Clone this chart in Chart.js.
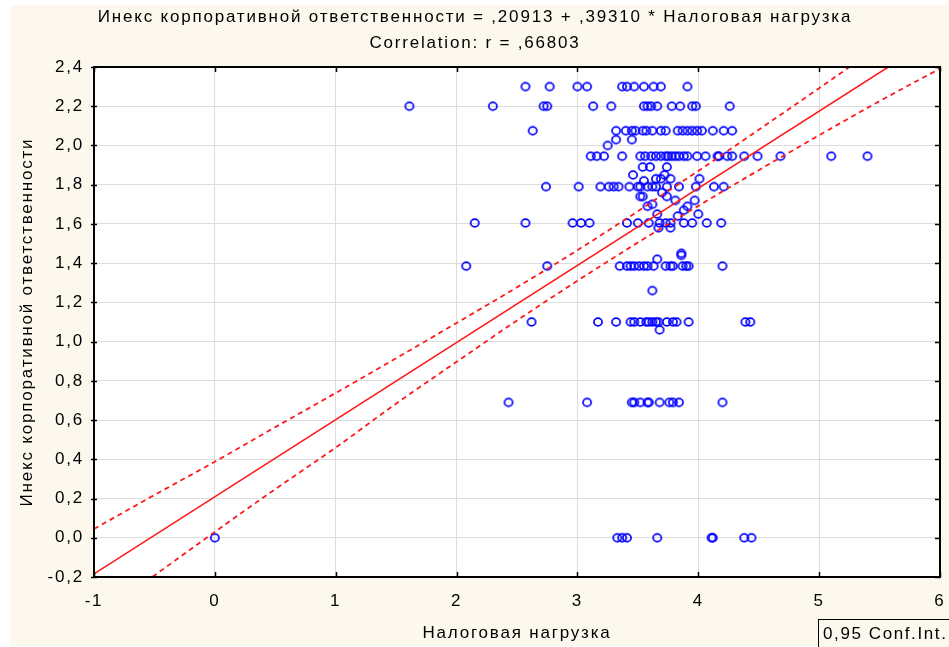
<!DOCTYPE html>
<html><head><meta charset="utf-8">
<script src="https://cdn.jsdelivr.net/npm/chart.js@4.4.0/dist/chart.umd.min.js"></script>
<style>html,body{margin:0;padding:0;background:#fff;}canvas{display:block;}</style>
</head><body>
<canvas id="c" width="949" height="647"></canvas>
<script>
const titleLines = ['Инекс корпоративной ответственности = ,20913 + ,39310 * Налоговая нагрузка', 'Correlation: r = ,66803'];
const xAxisTitle = 'Налоговая нагрузка';
const yAxisTitle = 'Инекс корпоративной ответственности';
const legendLabel = '0,95 Conf.Int.';
const xTickLabels = ['-1', '0', '1', '2', '3', '4', '5', '6'];
const yTickLabels = ['-0,2', '0,0', '0,2', '0,4', '0,6', '0,8', '1,0', '1,2', '1,4', '1,6', '1,8', '2,0', '2,2', '2,4'];

// Observed points: each CSR index level with the tax-load values observed at it
const csrLevels = [2.30, 2.20, 2.075, 2.03, 2.00, 1.945, 1.89, 1.85, 1.83, 1.82, 1.79, 1.76, 1.74, 1.72, 1.70, 1.69, 1.67, 1.65, 1.64, 1.605, 1.58, 1.45, 1.44, 1.42, 1.385, 1.26, 1.10, 1.06, 0.69, 0.00];
const taxLoadByLevel = [
  [2.57, 2.77, 3.00, 3.08, 3.37, 3.41, 3.47, 3.55, 3.63, 3.69, 3.91],
  [1.61, 2.30, 2.72, 2.75, 3.13, 3.28, 3.55, 3.58, 3.61, 3.66, 3.78, 3.85, 3.95, 3.98, 4.26],
  [2.63, 3.32, 3.40, 3.45, 3.48, 3.54, 3.57, 3.62, 3.69, 3.73, 3.83, 3.87, 3.91, 3.95, 3.99, 4.03, 4.12, 4.21, 4.28],
  [3.32, 3.45],
  [3.25],
  [3.11, 3.16, 3.22, 3.37, 3.52, 3.56, 3.61, 3.65, 3.69, 3.73, 3.75, 3.78, 3.81, 3.84, 3.88, 3.91, 3.99, 4.06, 4.16, 4.17, 4.24, 4.28, 4.38, 4.49, 4.68, 5.10, 5.40],
  [3.54, 3.60, 3.74],
  [3.46, 3.72],
  [3.65, 3.69, 3.77, 4.01],
  [3.55],
  [2.74, 3.01, 3.19, 3.26, 3.30, 3.34, 3.43, 3.50, 3.52, 3.58, 3.62, 3.65, 3.74, 3.84, 3.98, 4.13, 4.21],
  [3.70],
  [3.52, 3.54, 3.74],
  [3.81, 3.97],
  [3.62],
  [3.58, 3.91],
  [3.88],
  [3.66, 4.00],
  [3.83],
  [2.15, 2.57, 2.96, 3.03, 3.10, 3.41, 3.50, 3.59, 3.68, 3.73, 3.77, 3.88, 3.95, 4.07, 4.19],
  [3.67, 3.77],
  [3.86],
  [3.86],
  [3.66],
  [2.08, 2.75, 3.35, 3.41, 3.44, 3.47, 3.51, 3.55, 3.58, 3.63, 3.73, 3.77, 3.79, 3.87, 3.90, 3.92, 4.20],
  [3.62],
  [2.62, 3.17, 3.32, 3.44, 3.47, 3.52, 3.57, 3.59, 3.62, 3.65, 3.67, 3.74, 3.79, 3.82, 3.92, 4.39, 4.43],
  [3.68],
  [2.43, 3.08, 3.45, 3.47, 3.52, 3.58, 3.59, 3.68, 3.76, 3.79, 3.84, 4.20],
  [0.00, 3.33, 3.37, 3.41, 3.66, 4.11, 4.12, 4.38, 4.44]
];

// Regression line end points (x = -1 and x = 6)
const regX = [-1, 6];
const regY = [-0.184, 2.568];

// 0.95 confidence band read along x
const ciX = [-1, -0.5, 0, 0.5, 1, 1.5, 2, 2.5, 3, 3.5, 4, 4.5, 5, 5.5, 6];
const ciUpper = [0.045, 0.218, 0.388, 0.564, 0.738, 0.915, 1.095, 1.277, 1.466, 1.665, 1.870, 2.080, 2.292, 2.508, 2.725];
const ciLower = [-0.413, -0.192, 0.030, 0.248, 0.460, 0.684, 0.897, 1.108, 1.310, 1.505, 1.692, 1.874, 2.052, 2.226, 2.392];

const FONT = 'Liberation Sans, Arial, sans-serif';
const SPACING = '1.8px';
Chart.defaults.font.family = FONT;
Chart.defaults.color = '#000';

const points = [];
csrLevels.forEach((lvl, i) => taxLoadByLevel[i].forEach(x => points.push({x: x, y: lvl})));
const pair = (xs, ys) => xs.map((x, i) => ({x: x, y: ys[i]}));

function makeMarker() {
  const c = document.createElement('canvas');
  c.width = 14; c.height = 12;
  const g = c.getContext('2d');
  g.strokeStyle = '#0000ff';
  g.lineWidth = 1.7;
  g.beginPath();
  g.ellipse(7, 6, 4.1, 3.85, 0, 0, 2 * Math.PI);
  g.stroke();
  return c;
}
const marker = makeMarker();

const spacing = {
  id: 'spacing',
  beforeLayout(chart) { chart.ctx.letterSpacing = SPACING; },
  beforeDraw(chart) { chart.ctx.letterSpacing = SPACING; }
};

const decor = {
  id: 'decor',
  beforeDraw(chart) {
    const {ctx, chartArea: a} = chart;
    ctx.save();
    ctx.fillStyle = '#ffffff';
    ctx.fillRect(0, 0, chart.width, chart.height);
    ctx.fillStyle = '#fdf8ee';
    ctx.fillRect(10, 5, chart.width - 10, chart.height - 6);
    ctx.fillStyle = '#ffffff';
    ctx.fillRect(a.left, a.top, a.right - a.left, a.bottom - a.top);
    ctx.restore();
  },
  afterDraw(chart) {
    const {ctx, chartArea: a, scales} = chart;
    ctx.save();
    ctx.strokeStyle = '#000';
    ctx.lineWidth = 2;
    ctx.strokeRect(a.left, a.top, a.right - a.left, a.bottom - a.top);
    ctx.lineWidth = 1.5;
    ctx.beginPath();
    scales.x.ticks.forEach(t => {
      const px = Math.round(scales.x.getPixelForValue(t.value)) + 0.5;
      ctx.moveTo(px, a.bottom); ctx.lineTo(px, a.bottom - 5);
      ctx.moveTo(px, a.top); ctx.lineTo(px, a.top + 5);
    });
    scales.y.ticks.forEach(t => {
      const py = Math.round(scales.y.getPixelForValue(t.value)) + 0.5;
      ctx.moveTo(a.left - 3, py); ctx.lineTo(a.left + 3, py);
      ctx.moveTo(a.right, py); ctx.lineTo(a.right - 5, py);
    });
    ctx.stroke();
    // legend box
    ctx.fillStyle = '#fdf8ee';
    ctx.fillRect(818, 619, 140, 40);
    ctx.lineWidth = 1;
    ctx.strokeStyle = '#000';
    ctx.strokeRect(818.5, 619.5, 140, 40);
    ctx.fillStyle = '#000';
    ctx.letterSpacing = '1.6px';
    ctx.font = '17px ' + FONT;
    ctx.textAlign = 'left';
    ctx.textBaseline = 'middle';
    ctx.fillText(legendLabel, 823, 634);
    ctx.restore();
  }
};

new Chart(document.getElementById('c'), {
  type: 'scatter',
  data: {
    datasets: [
      {data: pair(regX, regY), showLine: true, borderColor: '#ff1a1a', borderWidth: 1.6, pointRadius: 0, clip: 0},
      {data: pair(ciX, ciUpper), showLine: true, borderColor: '#ff1a1a', borderWidth: 1.8, borderDash: [5, 4], pointRadius: 0, cubicInterpolationMode: 'monotone', clip: 0},
      {data: pair(ciX, ciLower), showLine: true, borderColor: '#ff1a1a', borderWidth: 1.8, borderDash: [5, 4], pointRadius: 0, cubicInterpolationMode: 'monotone', clip: 0},
      {data: points, showLine: false, pointStyle: marker, pointRadius: 5, borderColor: '#0000ff', backgroundColor: 'rgba(0,0,0,0)'}
    ]
  },
  options: {
    responsive: false,
    animation: false,
    events: [],
    layout: {padding: {left: 10, right: 9, top: 0, bottom: 0}},
    plugins: {
      legend: {display: false},
      tooltip: {enabled: false},
      title: {display: true, text: titleLines, color: '#000', font: {size: 17, weight: 'normal', lineHeight: 1.5}, padding: {top: 5, bottom: 11}}
    },
    scales: {
      x: {
        type: 'linear', min: -1, max: 6,
        ticks: {stepSize: 1, callback: (v, i) => xTickLabels[i], font: {size: 17}, color: '#000', padding: 14, maxRotation: 0},
        grid: {color: '#dddddd', drawTicks: false},
        border: {display: false},
        title: {display: true, text: xAxisTitle, color: '#000', font: {size: 17}, padding: {top: 0, bottom: 3}},
        afterFit: s => { s.height = 70; s.paddingLeft = 0; s.paddingRight = 0; }
      },
      y: {
        type: 'linear', min: -0.2, max: 2.4,
        ticks: {stepSize: 0.2, callback: (v, i) => yTickLabels[i], font: {size: 17}, color: '#000', padding: 10},
        grid: {color: '#dddddd', drawTicks: false},
        border: {display: false},
        title: {display: true, text: yAxisTitle, color: '#000', font: {size: 17}, padding: {top: 7, bottom: 0}},
        afterFit: s => { s.width = 84; s.paddingTop = 0; s.paddingBottom = 0; }
      }
    }
  },
  plugins: [spacing, decor]
});
</script>
</body></html>
